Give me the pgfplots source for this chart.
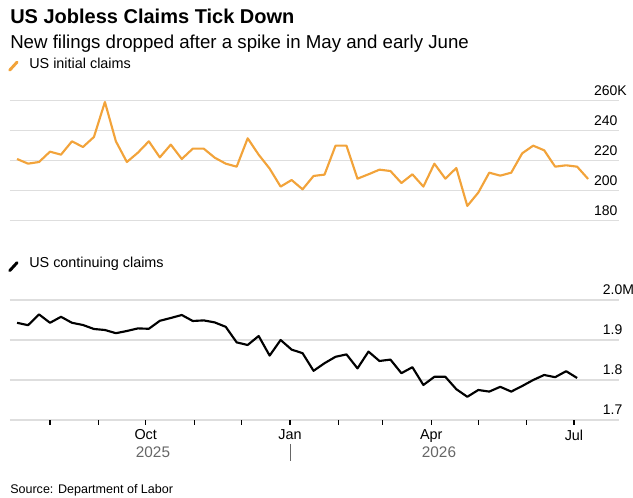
\documentclass[border=0pt]{standalone}
\usepackage{pgfplots}
\pgfplotsset{compat=1.18}
\usepackage{fontspec}
\setmainfont{Liberation Sans}
\definecolor{orangeline}{HTML}{F2A33A}
\definecolor{gridgray}{HTML}{DEDEDE}
\definecolor{yeargray}{HTML}{666666}

\pgfplotstableread{
x y
10 221.1
17 218.0
24 219.1
31 226.0
38 224.0
45 232.9
52 229.1
59 235.8
66 259.1
73 232.9
80 219.1
87 225.3
94 232.9
101 222.2
108 230.7
115 221.1
122 228
129 228
136 222
143 218
150 216
157 234.9
164 224
171 214.7
178 202.7
185 207.1
192 200.9
199 209.8
206 210.7
213 230
220 230
227 208
234 210.9
241 214
248 213.1
255 205.1
262 210.9
269 202.7
276 218
283 208
290 215.1
297 189.8
304 198.7
311 212
318 210
325 212
332 224.9
339 230
346 226.9
353 216
360 216.9
367 216
374 207.8
}\initialclaims

\pgfplotstableread{
x y
10 1.943
17 1.937
24 1.964
31 1.943
38 1.958
45 1.943
52 1.9375
59 1.9275
66 1.925
73 1.917
80 1.9225
87 1.929
94 1.928
101 1.948
108 1.955
115 1.9625
122 1.9475
129 1.949
136 1.944
143 1.933
150 1.894
157 1.8875
164 1.910
171 1.861
178 1.900
185 1.876
192 1.867
199 1.823
206 1.842
213 1.858
220 1.864
227 1.829
234 1.871
241 1.8475
248 1.851
255 1.817
262 1.832
269 1.7875
276 1.808
283 1.808
290 1.777
297 1.758
304 1.775
311 1.771
318 1.783
325 1.771
332 1.785
339 1.800
346 1.8125
353 1.807
360 1.822
367 1.805
}\continuingclaims

\begin{document}
\begin{tikzpicture}
\useasboundingbox (0,0) rectangle (474.75pt,-373.5pt);
\node[anchor=base west, inner sep=0pt, font=\fontsize{15}{18}\selectfont\bfseries] at (7.5pt,-18pt) {US Jobless Claims Tick Down};
\node[anchor=base west, inner sep=0pt, font=\fontsize{14}{17}\selectfont] at (7.5pt,-36.75pt) {New filings dropped after a spike in May and early June};
\draw[orangeline, line width=2.2pt, line cap=round] (7.3pt,-52.6pt) -- (12.8pt,-46.6pt);
\node[anchor=base west, inner sep=0pt, font=\fontsize{10.8}{13}\selectfont] at (21.75pt,-51.75pt) {US initial claims};
\draw[black, line width=2.2pt, line cap=round] (7.3pt,-203pt) -- (12.8pt,-197pt);
\node[anchor=base west, inner sep=0pt, font=\fontsize{10.8}{13}\selectfont] at (21.75pt,-201pt) {US continuing claims};

\begin{axis}[
  at={(7.5pt,-165.5pt)}, anchor=south west,
  width=456.75pt, height=90pt, scale only axis,
  xmin=5.5, xmax=393.7, ymin=180, ymax=260,
  ytick={180,200,220,240,260}, yticklabels={180,200,220,240,260\rlap{K}},
  yticklabel pos=right,
  yticklabel style={anchor=south east, inner sep=0pt, yshift=3.75pt, xshift=-1pt, font=\fontsize{10.5}{12}\selectfont},
  ymajorgrids, grid style={gridgray, line width=1.1pt},
  xtick=\empty, axis line style={draw=none}, ytick style={draw=none},
  clip=false,
]
\addplot[orangeline, line width=1.6pt, line join=round] table {\initialclaims};
\end{axis}

\begin{axis}[
  at={(7.5pt,-315pt)}, anchor=south west,
  width=456.75pt, height=90pt, scale only axis,
  xmin=5.5, xmax=393.7, ymin=1.7, ymax=2.0,
  ytick={1.7,1.8,1.9,2.0}, yticklabels={1.7,1.8,1.9,2.0\rlap{M}},
  yticklabel pos=right,
  yticklabel style={anchor=south east, inner sep=0pt, yshift=3.75pt, xshift=-1pt, font=\fontsize{10.5}{12}\selectfont},
  ymajorgrids, grid style={gridgray, line width=1.1pt},
  axis line style={draw=none}, ytick style={draw=none},
  xtick={31,62,92,123,153,184,215,243,274,304,335,365},
  xticklabels={,,Oct,,,Jan,,,Apr,,,Jul},
  xtick pos=bottom, tick align=outside, major tick length=3.75pt,
  xtick style={draw=black, line width=0.8pt},
  xticklabel style={font=\fontsize{10.8}{12}\selectfont, text=black},
  clip=false,
]
\addplot[black, line width=1.6pt, line join=round] table {\continuingclaims};
\end{axis}

\node[font=\fontsize{11.5}{13}\selectfont, text=yeargray] at (114.75pt,-339pt) {2025};
\node[font=\fontsize{11.5}{13}\selectfont, text=yeargray] at (329.25pt,-339pt) {2026};
\draw[yeargray, line width=0.6pt] (217.5pt,-333pt) -- (217.5pt,-346pt);
\node[anchor=base west, inner sep=0pt, font=\fontsize{9.4}{11}\selectfont] at (7.5pt,-370pt) {Source: Department of Labor};
\end{tikzpicture}
\end{document}
